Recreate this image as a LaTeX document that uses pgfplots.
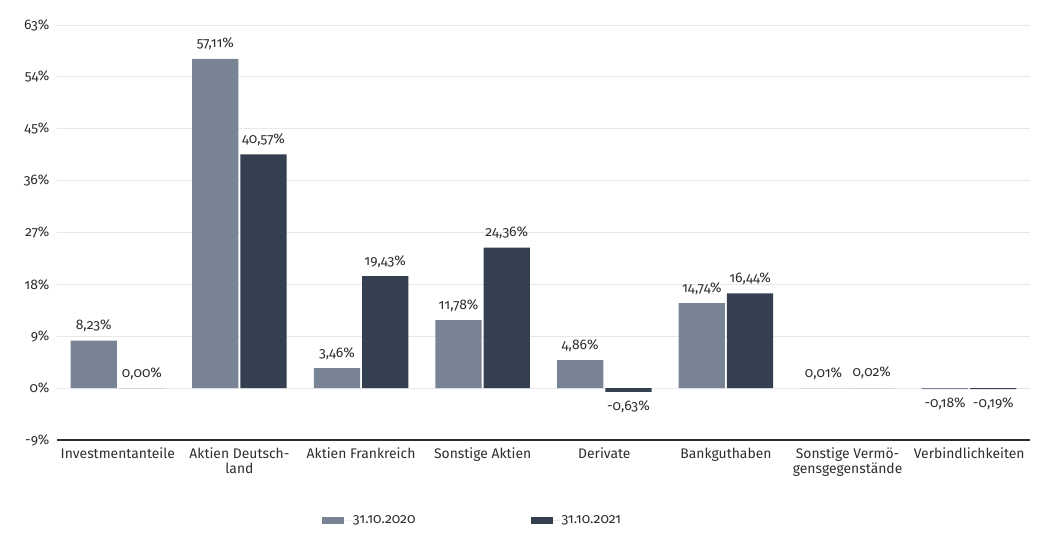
\documentclass[border=0pt]{standalone}
\usepackage{fontspec}
\setmainfont{Fira Sans}[Numbers=OldStyle]
\usepackage{pgfplots}
\pgfplotsset{compat=1.18}
\definecolor{cA}{HTML}{788494}
\definecolor{cB}{HTML}{343F50}
\definecolor{gridc}{HTML}{E6E8EC}
\definecolor{txt}{HTML}{2E2E2E}
\newcommand{\lblfont}{\fontsize{13.9}{15}\selectfont}
\begin{document}
\begin{tikzpicture}[x=1pt,y=1pt]
\path[use as bounding box] (0,0) rectangle (1051,545);
\begin{axis}[
  at={(57pt,105pt)}, anchor=south west,
  scale only axis, width=973pt, height=415pt,
  xmin=-0.5, xmax=7.5, ymin=-9, ymax=63,
  ybar=2pt, bar width=0.38,
  /pgf/number format/assume math mode=true,
  ytick={-9,0,...,63},
  yticklabel={\pgfmathprintnumber[assume math mode=true]{\tick}\%},
  xtick={0,...,7},
  xticklabels={Investmentanteile,{Aktien Deutsch-\\land},Aktien Frankreich,Sonstige Aktien,Derivate,Bankguthaben,{Sonstige Vermö-\\gensgegenstände},Verbindlichkeiten},
  xticklabel style={align=center, font=\lblfont, text=txt},
  yticklabel style={font=\lblfont, text=txt, xshift=-4pt},
  major x tick style={draw=none},
  major y tick style={draw=none},
  extra x ticks={-0.5,0.5,...,7.5},
  extra x tick labels={},
  extra x tick style={major tick length=6pt, tick align=outside, grid=none, major tick style={draw=txt, line width=1pt}},
  axis x line*=bottom, axis y line*=left,
  x axis line style={-, draw=txt, line width=1.2pt},
  y axis line style={draw=none},
  ymajorgrids, grid style={draw=gridc, line width=0.8pt},
  nodes near coords={\pgfmathprintnumber[fixed,fixed zerofill,precision=2,use comma,assume math mode=true]{\pgfplotspointmeta}\%},
  every node near coord/.append style={font=\lblfont, text=txt, inner sep=8.5pt},
  nodes near coords align={vertical},
  legend image code/.code={\fill[#1] (0pt,-3.5pt) rectangle (22pt,3.5pt); \path (0pt,0pt) -- (29pt,0pt);},
  legend style={at={(0.269,-0.193)}, anchor=west, draw=none, fill=none, legend columns=2,
    font=\lblfont, text=txt,
    /tikz/every even column/.append style={column sep=113pt}},
]
\addplot[fill=cA, draw=none]
  coordinates {(0,8.23) (1,57.11) (2,3.46) (3,11.78) (4,4.86) (5,14.74) (6,0.01) (7,-0.18)};
\addlegendentry{31.10.2020}
\addplot[fill=cB, draw=none]
  coordinates {(0,0.00) (1,40.57) (2,19.43) (3,24.36) (4,-0.63) (5,16.44) (6,0.02) (7,-0.19)};
\addlegendentry{31.10.2021}
\end{axis}
\end{tikzpicture}
\end{document}
